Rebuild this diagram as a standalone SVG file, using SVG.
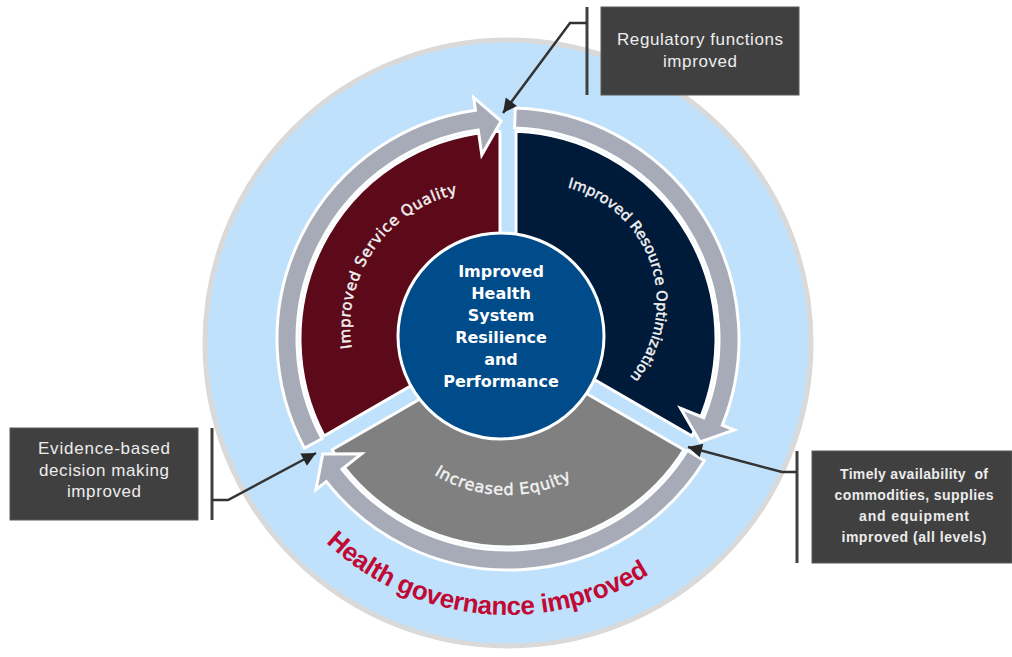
<svg xmlns="http://www.w3.org/2000/svg" width="1012" height="657" viewBox="0 0 1012 657">
  <style>
    .sector { stroke: #ffffff; stroke-width: 3; stroke-linejoin: round; }
    .cycle { fill: #a7aab7; stroke: #ffffff; stroke-width: 3; stroke-linejoin: miter; }
    .box { fill: #404040; stroke: #5a5a5a; stroke-width: 1; }
    .boxtxt { font-family: "Liberation Sans", Arial, sans-serif; font-size: 17px; fill: #ededed; text-anchor: middle; }
    .boxbold { font-family: "Liberation Sans", Arial, sans-serif; font-size: 14px; font-weight: bold; fill: #ececec; text-anchor: middle; white-space: pre; }
    .bracket { stroke: #404040; stroke-width: 3; fill: none; }
    .ptr { stroke: #333333; stroke-width: 2.5; fill: none; marker-end: url(#tip); }
    .arc-label { font-family: "DejaVu Sans", Verdana, sans-serif; font-size: 15px; fill: #f2f2f2; stroke: #f2f2f2; stroke-width: 0.45; }
    .core { font-family: "DejaVu Sans", Verdana, sans-serif; font-size: 16px; font-weight: bold; fill: #ffffff; text-anchor: middle; }
    .goal { font-family: "Liberation Sans", Arial, sans-serif; font-size: 26px; font-weight: bold; fill: #c00a35; }
  </style>
  <defs>
    <marker id="tip" viewBox="0 0 10 10" refX="10" refY="5" markerWidth="16" markerHeight="14" markerUnits="userSpaceOnUse" orient="auto">
      <path d="M0,0 L10,5 L0,10 Z" fill="#262626"/>
    </marker>
    <!-- text baselines -->
    <path id="p-quality" d="M351.67,348.27 A136 136 0 0 1 457.72,193.97"/>
    <path id="p-resource" d="M567.55,187.50 A118 118 0 0 1 630.05,377.06"/>
    <path id="p-equity" d="M366.5,354.5 A140.5 140.5 0 0 0 647.5,354.5"/>
    <path id="p-governance" d="M243,350 A265 265 0 0 0 773,350"/>
  </defs>

  <!-- governance ring -->
  <g id="governance-ring">
    <circle cx="508" cy="343" r="303" fill="#bfe1fb" stroke="#d9d9d9" stroke-width="5"/>
    <text class="goal"><textPath href="#p-governance" startOffset="46.9%" text-anchor="middle" textLength="350" lengthAdjust="spacing">Health governance improved</textPath></text>
  </g>

  <!-- three pillars -->
  <g id="service-quality">
    <path class="sector" fill="#5c0a1a" d="M324,436 A208 208 0 0 1 500,131.15 L500,334.4 Z"/>
    <text class="arc-label"><textPath href="#p-quality" textLength="206" lengthAdjust="spacing">Improved Service Quality</textPath></text>
  </g>
  <g id="resource-optimization">
    <path class="sector" fill="#001a3a" d="M516,131.15 A208 208 0 0 1 692,436 L516,334.4 Z"/>
    <text class="arc-label" style="font-size:14.5px"><textPath href="#p-resource" textLength="238" lengthAdjust="spacing">Improved Resource Optimization</textPath></text>
  </g>
  <g id="equity">
    <path class="sector" fill="#808080" d="M684,449.8 A208 208 0 0 1 332,449.8 L508,348.24 Z"/>
    <text class="arc-label" style="font-size:16px"><textPath href="#p-equity" startOffset="48.9%" text-anchor="middle" textLength="144" lengthAdjust="spacing">Increased Equity</textPath></text>
  </g>

  <!-- clockwise cycle arrows -->
  <g id="cycle-arrows">
    <path class="cycle" d="M304.42,448.15 A231 231 0 0 1 475.45,110.31 L473.62,97.44 L501.15,121.11 L481.79,154.86 L478.27,130.11 A211 211 0 0 0 322.05,438.70 Z"/>
    <path class="cycle" d="M515.26,108.11 A231 231 0 0 1 722.33,425.16 L734.39,430.01 L700.12,442.01 L680.58,408.38 L703.77,417.70 A211 211 0 0 0 514.63,128.10 Z"/>
    <path class="cycle" d="M704.32,460.74 A231 231 0 0 1 326.22,481.54 L315.99,489.56 L322.72,453.89 L361.63,453.77 L341.96,469.20 A211 211 0 0 0 687.33,450.20 Z"/>
  </g>

  <!-- core outcome -->
  <g id="core">
    <circle cx="501" cy="336" r="103" fill="#004b8a" stroke="#ffffff" stroke-width="3"/>
    <text class="core" x="501" y="276.5">Improved</text>
    <text class="core" x="501" y="298.5">Health</text>
    <text class="core" x="501" y="320.5">System</text>
    <text class="core" x="501" y="342.5">Resilience</text>
    <text class="core" x="501" y="364.5">and</text>
    <text class="core" x="501" y="386.5">Performance</text>
  </g>

  <!-- callouts -->
  <g id="callout-regulatory">
    <rect class="box" x="601" y="7" width="198" height="88"/>
    <text class="boxtxt" x="700" y="45" textLength="166" lengthAdjust="spacing">Regulatory functions</text>
    <text class="boxtxt" x="700" y="67" textLength="74" lengthAdjust="spacing">improved</text>
    <line class="bracket" x1="587" y1="7" x2="587" y2="95"/>
  </g>
  <g id="callout-evidence">
    <rect class="box" x="10" y="428" width="188" height="92"/>
    <text class="boxtxt" x="104" y="454" textLength="132" lengthAdjust="spacing">Evidence-based</text>
    <text class="boxtxt" x="104" y="475.5" textLength="130" lengthAdjust="spacing">decision making</text>
    <text class="boxtxt" x="104" y="496.5" textLength="74" lengthAdjust="spacing">improved</text>
    <line class="bracket" x1="212" y1="428" x2="212" y2="520"/>
  </g>
  <g id="callout-commodities">
    <rect class="box" x="812" y="451" width="200" height="112"/>
    <text class="boxbold" x="914" y="479" textLength="148" lengthAdjust="spacing">Timely availability  of</text>
    <text class="boxbold" x="914" y="500" textLength="159" lengthAdjust="spacing">commodities, supplies</text>
    <text class="boxbold" x="914" y="521" textLength="110" lengthAdjust="spacing">and equipment</text>
    <text class="boxbold" x="914" y="542" textLength="145" lengthAdjust="spacing">improved (all levels)</text>
    <line class="bracket" x1="797" y1="451" x2="797" y2="563"/>
  </g>

  <!-- pointer connectors -->
  <g id="connectors">
    <polyline class="ptr" points="587,23 570,23 503,113"/>
    <polyline class="ptr" points="212,500 228,500 316,453"/>
    <polyline class="ptr" points="797,472 782,472 688,447"/>
  </g>
</svg>
